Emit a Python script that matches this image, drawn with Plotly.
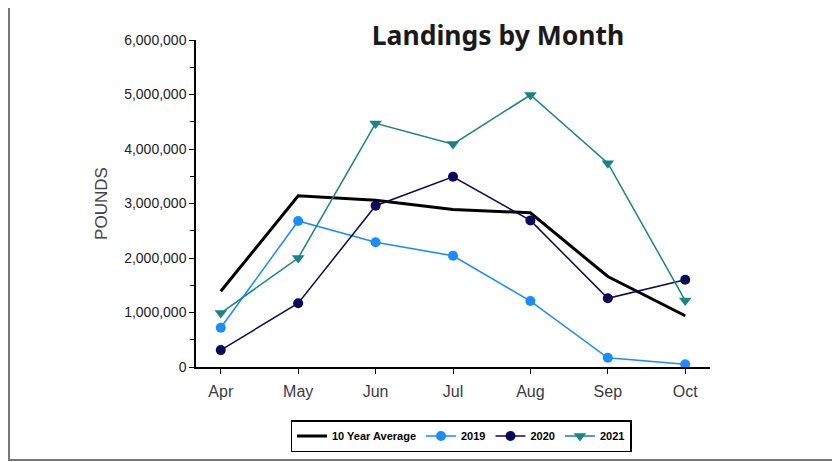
import plotly.graph_objects as go

months = ["Apr", "May", "Jun", "Jul", "Aug", "Sep", "Oct"]
avg10 = [1390000, 3140000, 3060000, 2890000, 2830000, 1660000, 940000]
y2019 = [720000, 2680000, 2290000, 2040000, 1210000, 170000, 50000]
y2020 = [310000, 1170000, 2960000, 3490000, 2690000, 1260000, 1600000]
y2021 = [990000, 2000000, 4470000, 4090000, 4990000, 3740000, 1220000]

OFF = 8  # browser default body margin
W, H = 840 - OFF, 462 - OFF
L, R, T, B = 196 - OFF, 710 - OFF, 40 - OFF, 367 - OFF
pw, ph = R - L, B - T

def px(x):
    return (x - OFF - L) / pw

def py(y):
    return (B - (y - OFF)) / ph

fig = go.Figure()
fig.add_trace(go.Scatter(x=months, y=avg10, name="10 Year Average", mode="lines",
                         line=dict(color="black", width=3)))
fig.add_trace(go.Scatter(x=months, y=y2019, name="2019", mode="lines+markers",
                         line=dict(color="#1A8CFF", width=1.5),
                         marker=dict(symbol="circle", size=10, color="#1A8CFF")))
fig.add_trace(go.Scatter(x=months, y=y2020, name="2020", mode="lines+markers",
                         line=dict(color="#0A0A5C", width=1.5),
                         marker=dict(symbol="circle", size=10, color="#0A0A5C")))
fig.add_trace(go.Scatter(x=months, y=y2021, name="2021", mode="lines+markers",
                         line=dict(color="#188484", width=1.5),
                         marker=dict(symbol="triangle-down", size=11, color="#188484")))

fig.update_layout(
    width=W, height=H,
    margin=dict(l=L, r=W - R, t=T, b=H - B, autoexpand=False),
    paper_bgcolor="white", plot_bgcolor="white",
    font=dict(family="Liberation Sans, Arial, sans-serif", color="#333333", size=14),
    title=dict(text="<b>Landings by Month</b>", x=(498 - OFF) / W, xanchor="center",
               y=1 - (36 - OFF) / H, yanchor="middle",
               font=dict(family="Noto Sans, Open Sans, sans-serif", size=26.5, color="#1a1a1a")),
    showlegend=True,
    legend=dict(orientation="h", xref="container", yref="container",
                x=(461 - OFF) / W, xanchor="center", y=1 - (420 - OFF) / H, yanchor="top",
                bordercolor="black", borderwidth=1.5, bgcolor="white",
                font=dict(family="Liberation Sans, Arial, sans-serif", size=11, color="black",
                          weight="bold"),
                itemwidth=30, tracegroupgap=0),
    xaxis=dict(type="category", range=[-0.32, 6.32], showline=True, linecolor="black",
               linewidth=1.5, ticks="outside", ticklen=5, tickcolor="black", showgrid=False,
               zeroline=False, ticklabelstandoff=4, automargin=False,
               tickfont=dict(size=16, color="#3a3a44")),
    yaxis=dict(range=[0, 6000000], dtick=1000000, tickformat=",", showline=True,
               linecolor="black", linewidth=1.5, ticks="outside", ticklen=5, tickcolor="black",
               showgrid=False, zeroline=False, automargin=False,
               minor=dict(dtick=500000, ticks="outside", ticklen=4, tickcolor="black", showgrid=False),
               tickfont=dict(size=14, color="#222222"),
               title=dict(text="POUNDS", standoff=12, font=dict(size=17, color="#444444"))),
    shapes=[dict(type="rect", xref="paper", yref="paper",
                 x0=px(9), x1=px(833), y0=py(460), y1=py(6),
                 line=dict(color="#777777", width=2), layer="below")],
)

fig.write_html("out.html")
